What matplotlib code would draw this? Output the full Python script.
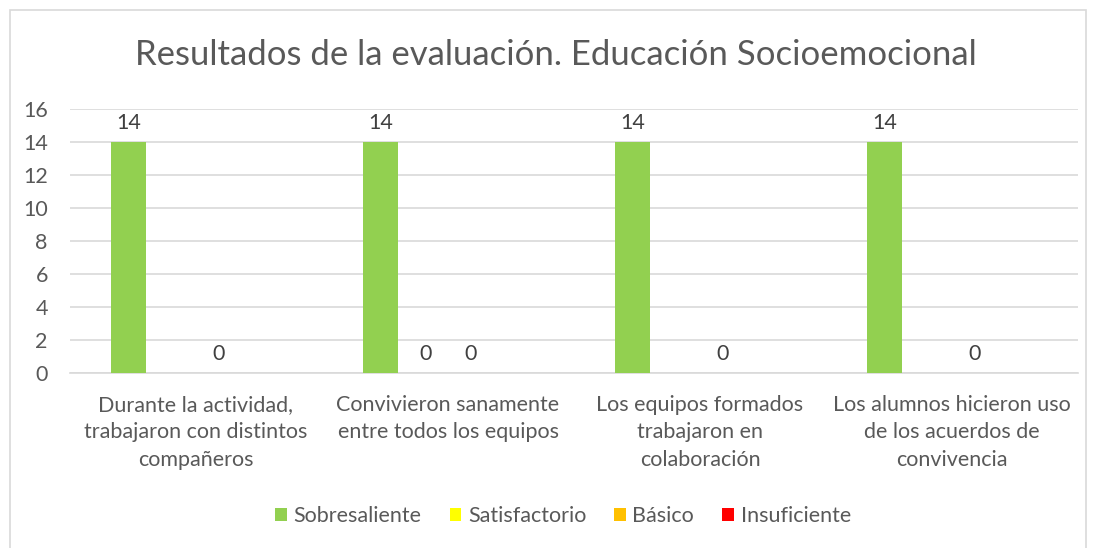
import matplotlib.pyplot as plt
import numpy as np
from matplotlib.patches import Rectangle

plt.rcParams['font.family'] = ['Lato', 'DejaVu Sans']

categorias = ['Durante la actividad,\ntrabajaron con distintos\ncompañeros',
              'Convivieron sanamente\nentre todos los equipos',
              'Los equipos formados\ntrabajaron en\ncolaboración',
              'Los alumnos hicieron uso\nde los acuerdos de\nconvivencia']
series = ['Sobresaliente', 'Satisfactorio', 'Básico', 'Insuficiente']
sobresaliente = [14, 14, 14, 14]
satisfactorio = [None, 0, None, None]
basico = [0, 0, 0, 0]
insuficiente = [None, None, None, None]
valores = [sobresaliente, satisfactorio, basico, insuficiente]
colores = ['#92d050', '#ffff00', '#ffc000', '#ff0000']

gris = '#595959'

fig = plt.figure(figsize=(10.96, 5.48), dpi=100)
fig.patches.append(Rectangle((10/1096, -0.05), 1076/1096, 1 - 10/548 + 0.05,
                             transform=fig.transFigure, fill=False,
                             edgecolor='#d9d9d9', lw=1.2))
ax = fig.add_axes([70/1096, 1 - 373/548, 1008/1096, 264/548])

x = np.arange(len(categorias))
paso = 0.179
ancho = 0.139
for i, (nombre, vals, c) in enumerate(zip(series, valores, colores)):
    pos = x + (i - 1.5) * paso
    h = [v if v is not None else 0 for v in vals]
    ax.bar(pos, h, width=ancho, color=c, label=nombre, zorder=3)
    for p, v in zip(pos, vals):
        if v is not None:
            ax.text(p, v + 0.55, str(v), ha='center', va='bottom',
                    fontsize=15.5, color='#404040')

ax.set_xlim(-0.5, 3.5)
ax.set_ylim(0, 16)
ax.set_yticks(range(0, 17, 2))
ax.yaxis.grid(True, color='#d9d9d9', lw=1.2, zorder=0)
for s in ['top', 'right', 'left']:
    ax.spines[s].set_visible(False)
ax.spines['bottom'].set_color('#d9d9d9')
ax.spines['bottom'].set_linewidth(1.2)
ax.tick_params(axis='both', length=0, labelsize=15.5, colors=gris)
ax.tick_params(axis='y', pad=16)
ax.tick_params(axis='x', pad=16)
ax.set_xticks(x)
ax.set_xticklabels(categorias, linespacing=1.45)

fig.text(556/1096, 1 - 55/548, 'Resultados de la evaluación. Educación Socioemocional',
         ha='center', va='center', fontsize=25, color=gris)

fig.legend(loc='center', bbox_to_anchor=(563/1096, 1 - 516/548), ncol=4,
           frameon=False, fontsize=15.5, handlelength=0.55, handleheight=0.55,
           handletextpad=0.3, columnspacing=1.3, labelcolor=gris)

fig.savefig('out.png', dpi=100)
